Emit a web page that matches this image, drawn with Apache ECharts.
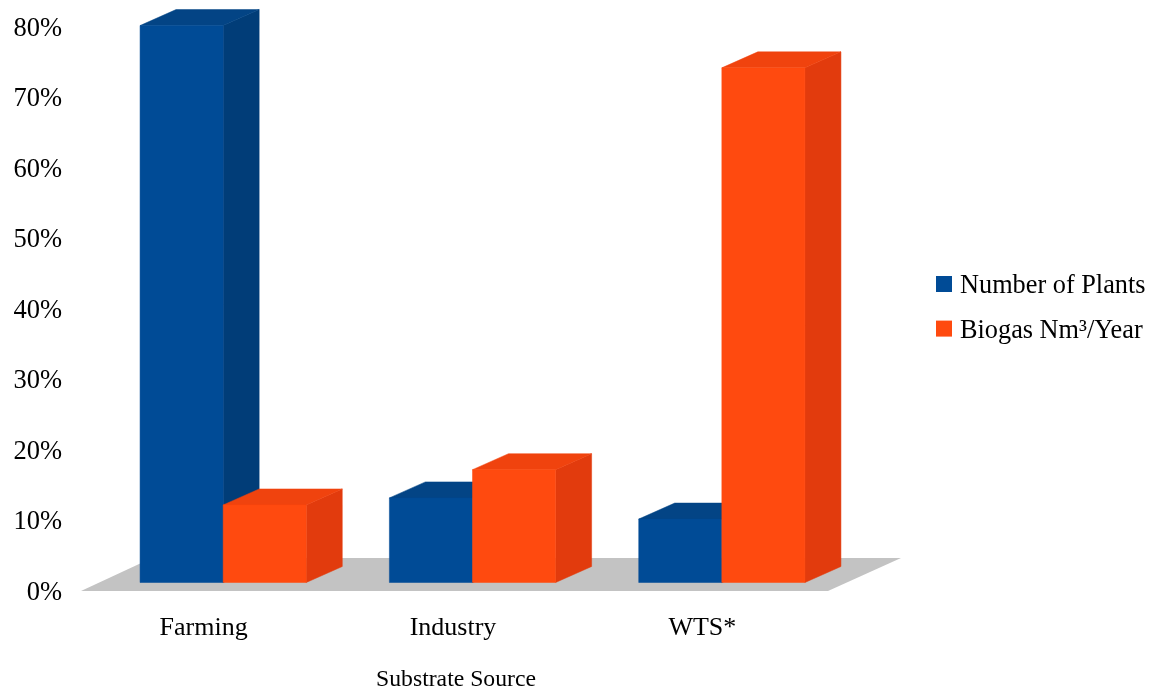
<!DOCTYPE html>
<html>
<head>
<meta charset="utf-8">
<style>html,body{margin:0;padding:0;background:#fff}#c{width:1156px;height:692px}</style>
<script src="https://cdn.jsdelivr.net/npm/echarts@6/dist/echarts.min.js"></script>
</head>
<body>
<div id="c"></div>
<script>
const categories = ['Farming', 'Industry', 'WTS*'];
const plants = [79, 12, 9];
const biogas = [11, 16, 73];
const yTicks = [0, 10, 20, 30, 40, 50, 60, 70, 80];

const DX = 36, DY = 16, LIFT = 8.5, SHIFT = 17.5;
const FONT = '"Liberation Serif","Times New Roman",serif';

function barRenderer(side, colors) {
  return function (params, api) {
    const i = api.value(0), v = api.value(1);
    const top = api.coord([i, v]);
    const base = api.coord([i, 0]);
    const w = api.size([1, 0])[0] / 3;
    const x0 = top[0] + SHIFT + side * w, x1 = x0 + w;
    const y0 = top[1] - LIFT, y1 = base[1] - LIFT;
    const poly = (points, fill) => ({ type: 'polygon', shape: { points }, style: { fill, stroke: fill, lineWidth: 0.5 } });
    return {
      type: 'group',
      children: [
        poly([[x1, y0], [x1 + DX, y0 - DY], [x1 + DX, y1 - DY], [x1, y1]], colors.side),
        poly([[x0, y0], [x0 + DX, y0 - DY], [x1 + DX, y0 - DY], [x1, y0]], colors.top),
        poly([[x0, y0], [x1, y0], [x1, y1], [x0, y1]], colors.front)
      ]
    };
  };
}

function floorRenderer(params) {
  const c = params.coordSys, b = c.y + c.height;
  return {
    type: 'polygon',
    shape: { points: [[c.x, b], [c.x + c.width - 1, b], [c.x + c.width + 72, b - 33], [c.x + 71, b - 33]] },
    style: { fill: '#c3c3c3' }
  };
}

const blue = { front: '#004b96', side: '#013d78', top: '#034485' };
const orange = { front: '#ff4a0f', side: '#e23b0d', top: '#f0430e' };

const chart = echarts.init(document.getElementById('c'), null, { renderer: 'canvas' });
chart.setOption({
  animation: false,
  backgroundColor: '#fff',
  grid: { left: 81, right: 327, top: 27, bottom: 101, outerBoundsMode: 'none', containLabel: false },
  legend: {
    data: ['Number of Plants', 'Biogas Nm³/Year'],
    orient: 'vertical',
    left: 936, top: 273,
    itemWidth: 16, itemHeight: 16, itemGap: 18.6,
    icon: 'rect',
    padding: 0,
    formatter: '{t|{name}}',
    textStyle: {
      rich: { t: { fontFamily: FONT, fontSize: 26.3, color: '#000', padding: [4, 0, 0, 3] } }
    }
  },
  xAxis: {
    type: 'category',
    data: categories,
    name: 'Substrate Source',
    nameLocation: 'middle',
    nameGap: 77,
    nameTextStyle: { fontFamily: FONT, fontSize: 23.7, color: '#000', padding: [0, 0, 0, 2] },
    axisLine: { show: false },
    axisTick: { show: false },
    axisLabel: { fontFamily: FONT, fontSize: 26, color: '#000', margin: 24, padding: [0, 4, 0, 0] }
  },
  yAxis: {
    type: 'value',
    min: yTicks[0], max: yTicks[yTicks.length - 1], interval: 10,
    axisLine: { show: false },
    axisTick: { show: false },
    splitLine: { show: false },
    axisLabel: {
      margin: 19,
      formatter: '{t|{value}%}',
      rich: { t: { fontFamily: FONT, fontSize: 26.5, color: '#000', padding: [4, 0, 0, 0] } }
    }
  },
  series: [
    { name: 'floor', type: 'custom', data: [[0, 0]], renderItem: floorRenderer, silent: true, z: 1 },
    { name: 'Number of Plants', type: 'custom', clip: false, z: 2, itemStyle: { color: blue.front },
      data: plants.map((v, i) => [i, v]), encode: { x: 0, y: 1 }, renderItem: barRenderer(-1, blue) },
    { name: 'Biogas Nm³/Year', type: 'custom', clip: false, z: 3, itemStyle: { color: orange.front },
      data: biogas.map((v, i) => [i, v]), encode: { x: 0, y: 1 }, renderItem: barRenderer(0, orange) }
  ]
});
</script>
</body>
</html>
